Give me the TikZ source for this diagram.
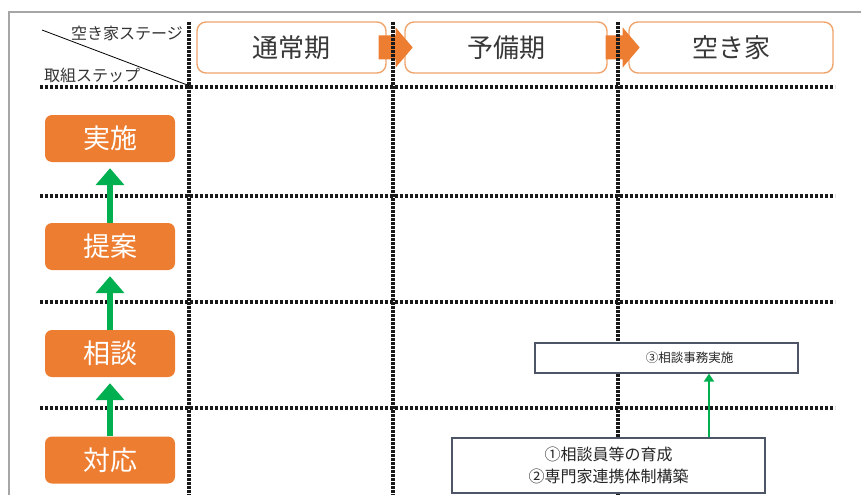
\documentclass[tikz,border=0pt]{standalone}
\usepackage{fontspec}
\usepackage{graphicx}
\setmainfont{Noto Sans CJK JP}
\usetikzlibrary{arrows.meta,calc}
\definecolor{orangeA}{HTML}{ED7D31}
\definecolor{orangeB}{HTML}{EFA56E}
\definecolor{greenA}{HTML}{00B050}
\definecolor{boxgray}{HTML}{4D5566}
\definecolor{txtgray}{HTML}{383838}
\begin{document}
\begin{tikzpicture}[x=1pt,y=-1pt,
  hdots/.style={line width=3.6pt, dash pattern=on 3pt off 2pt, color=black!90},
  vdots/.style={line width=3.6pt, dash pattern=on 2.6pt off 1.4pt, color=black!90},
  stagebox/.style={draw=orangeB, line width=1.4pt, rounded corners=9pt, fill=white,
    minimum height=51pt, inner sep=0pt, text=txtgray, font=\fontsize{26}{26}\selectfont},
  stepbox/.style={fill=orangeA, rounded corners=7pt, minimum width=130pt, minimum height=47pt,
    inner sep=0pt, text=white, font=\fontsize{27}{27}\selectfont},
  taskbox/.style={draw=boxgray, line width=1.2pt, fill=white, inner sep=0pt, text=black!85},
  bigup/.style={greenA, line width=6.5pt, -{Triangle[width=28pt,length=17pt]}},
  smallup/.style={greenA, line width=2.8pt, -{Triangle[width=10pt,length=8pt]}},
  cornerlbl/.style={inner sep=0pt, anchor=west, text=black!80, font=\fontsize{16}{16}\selectfont},
]
\path[use as bounding box] (0,0) rectangle (861,495);
% outer frame
\draw[gray!70, line width=1.3pt] (9,495) -- (9,12) -- (861,12);
% corner header
\draw[line width=0.8pt] (42,30) -- (190,86);
\node[cornerlbl] (stagelbl) at (71,33) {空き家ステージ};
\node[cornerlbl] (steplbl) at (44,75) {取組ステップ};
% stage boxes
\node[stagebox, minimum width=189pt] (h1) at (291.5,47.5) {通常期};
\node[stagebox, minimum width=202pt] (h2) at (506,47.5) {予備期};
\node[stagebox, minimum width=204pt] (h3) at (731,47.5) {空き家};
% orange block arrows between stages
\fill[orangeA] ($(h1.east)+(-8,-12)$) -- ++(17,0) -- ++(0,-8) -- ++(17,20) -- ++(-17,20) -- ++(0,-8) -- ++(-17,0) -- cycle;
\fill[orangeA] ($(h2.east)+(-2,-12)$) -- ++(17,0) -- ++(0,-8) -- ++(17,20) -- ++(-17,20) -- ++(0,-8) -- ++(-17,0) -- cycle;
% dotted grid
\foreach \yy in {87,196,302,408} \draw[hdots] (40,\yy) -- (835,\yy);
\foreach \xx in {189,393,618} \draw[vdots] (\xx,22) -- (\xx,495);
% step boxes
\node[stepbox] (s1) at (110,138.5) {実施};
\node[stepbox] (s2) at (110,246.5) {提案};
\node[stepbox] (s3) at (110,353.5) {相談};
\node[stepbox] (s4) at (110,460) {対応};
\draw[bigup] (s2.north) -- ([yshift=-6pt]s1.south);
\draw[bigup] (s3.north) -- ([yshift=-6pt]s2.south);
\draw[bigup] (s4.north) -- ([yshift=-6pt]s3.south);
% task boxes
\node[taskbox, minimum width=263pt, minimum height=30pt, font=\fontsize{12.5}{12.5}\selectfont] (t3) at (666.5,358) {\hspace*{46pt}③相談事務実施};
\node[taskbox, minimum width=313pt, minimum height=55pt, align=center, font=\fontsize{16}{22}\selectfont] (t12) at (608.5,465.5) {①相談員等の育成\\②専門家連携体制構築};
\coordinate (ax) at (709,0);
\draw[smallup] (t12.north -| ax) -- (t3.south -| ax);
\end{tikzpicture}
\end{document}
